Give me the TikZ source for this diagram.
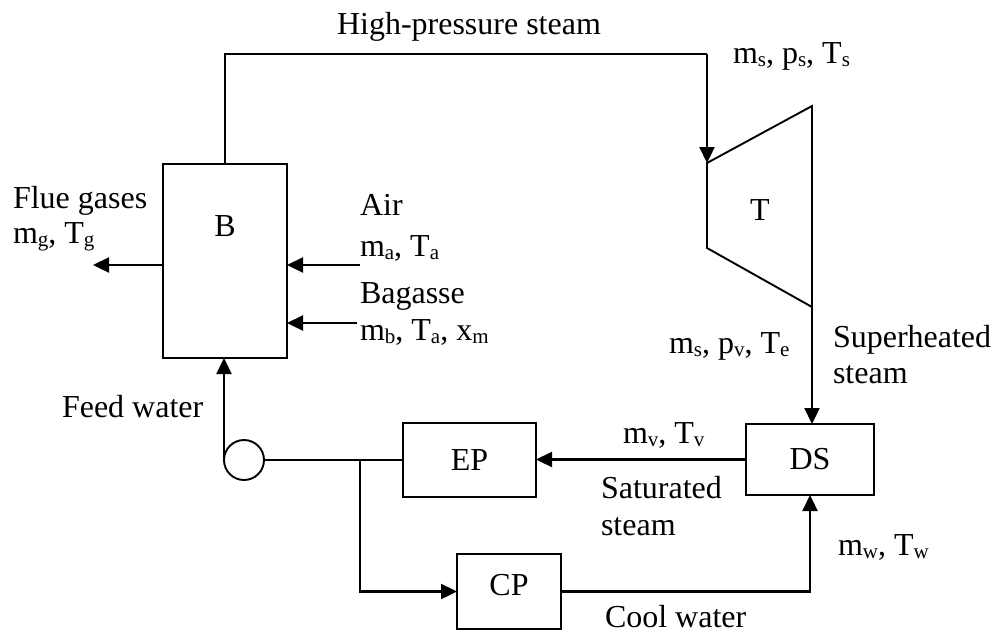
\documentclass[tikz,border=0pt]{standalone}
\usepackage{fontspec}
\setmainfont{Liberation Serif}
\usetikzlibrary{arrows.meta}
\newcommand{\sbs}[1]{\raisebox{-3pt}{\fontsize{21}{21}\selectfont #1}}
\begin{document}
\begin{tikzpicture}[x=1pt,y=-1pt,
  every node/.style={font=\fontsize{32}{36}\selectfont, inner sep=0pt, outer sep=0pt},
  box/.style={draw, line width=1.9pt},
  pipe/.style={line width=2.1pt},
  flow/.style={line width=2.3pt, -{Triangle[length=16pt,width=15pt]}},
  lbl/.style={anchor=base west}]
\useasboundingbox (0,0) rectangle (992,632);

% units
\node[box, minimum width=124pt, minimum height=194pt] (B) at (225,261) {};
\node (Bl) at (225,226) {B};
\node[box, minimum width=128pt, minimum height=71pt] (DS) at (810,459.5) {DS};
\node[box, minimum width=133pt, minimum height=74pt] (EP) at (469.5,460) {EP};
\node[box, minimum width=104pt, minimum height=75pt] (CP) at (509,591.5) {};
\node (CPl) at (509,585) {CP};
\node[box, circle, minimum size=40pt] (P) at (244,460) {};

% turbine
\coordinate (t1) at (707,163);
\coordinate (t2) at (812,106);
\coordinate (t3) at (812,307);
\coordinate (t4) at (707,248);
\draw[line width=1.9pt, line join=miter] (t1) -- (t2) -- (t3) -- (t4) -- cycle;
\node (Tl) at (760,210) {T};

% connectors
\coordinate (hp) at (707,54);
\draw[pipe] (B.north) |- (hp);
\draw[flow] (hp) -- (t1);
\draw[flow] (t3) -- (t3 |- DS.north);
\draw[flow] (DS.west) -- (DS.west -| EP.east);
\draw[pipe] (P.east) -- (EP.west);
\draw[flow] (P.west) -- (P.west |- B.south);
\coordinate (J) at (360,460);
\draw[flow] (J) |- (CP.west);
\draw[flow] (CP.east) -| (DS.south);
\coordinate (flue) at (93,265);
\draw[flow] (B.west |- flue) -- (flue);
\coordinate (air) at (360,265);
\draw[flow] (air) -- (air -| B.east);
\coordinate (bag) at (357,323);
\draw[flow] (bag) -- (bag -| B.east);

% labels
\node[lbl] (hpl) at (337,34) {High-pressure steam};
\node[lbl] (sin) at (733,63) {m\sbs{s}, p\sbs{s}, T\sbs{s}};
\node[lbl] (fg1) at (13,208) {Flue gases};
\node[lbl] (fg2) at (13,243) {m\sbs{g}, T\sbs{g}};
\node[lbl] (air1) at (360,215) {Air};
\node[lbl] (air2) at (360,256) {m\sbs{a}, T\sbs{a}};
\node[lbl] (bg1) at (360,303) {Bagasse};
\node[lbl] (bg2) at (360,340) {m\sbs{b}, T\sbs{a}, x\sbs{m}};
\node[lbl] (sout) at (669,353) {m\sbs{s}, p\sbs{v}, T\sbs{e}};
\node[lbl] (sh1) at (833,347) {Superheated};
\node[lbl] (sh2) at (833,383) {steam};
\node[lbl] (mv) at (623,443) {m\sbs{v}, T\sbs{v}};
\node[lbl] (st1) at (601,498) {Saturated};
\node[lbl] (st2) at (601,535) {steam};
\node[lbl] (mw) at (838,555) {m\sbs{w}, T\sbs{w}};
\node[lbl] (fw) at (62,417) {Feed water};
\node[lbl] (cw) at (605,627) {Cool water};
\end{tikzpicture}
\end{document}
